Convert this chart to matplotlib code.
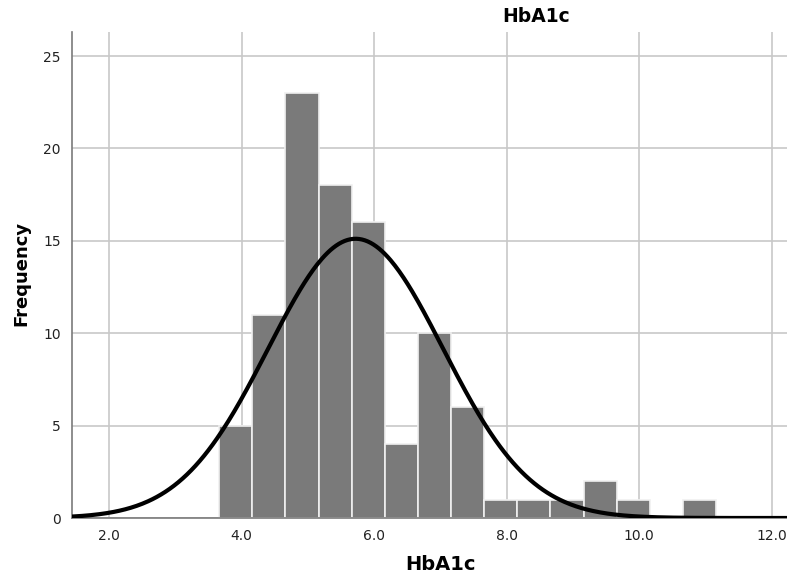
import numpy as np
import matplotlib
matplotlib.use("Agg")
import matplotlib.pyplot as plt

# Data
bin_edges = [3.66, 4.16, 4.66, 5.16, 5.66, 6.16, 6.66, 7.16, 7.66, 8.16,
             8.66, 9.16, 9.66, 10.16, 10.66, 11.16]
counts = [5, 11, 23, 18, 16, 4, 10, 6, 1, 1, 1, 2, 1, 0, 1]
curve_mean = 5.72
curve_sd = 1.32
n_total = 100
x_ticks = [2.0, 4.0, 6.0, 8.0, 10.0, 12.0]
y_ticks = [0, 5, 10, 15, 20, 25]

fig = plt.figure(figsize=(7.87, 5.78), dpi=100)
ax = fig.add_axes([0.0915, 0.1038, 0.9085, 0.8408])

edges = np.array(bin_edges)
widths = np.diff(edges)
ax.bar(edges[:-1], counts, width=widths, align="edge", color="#7a7a7a",
       edgecolor="#f0f0f0", linewidth=1.2, zorder=2)

binw = widths[0]
xs = np.linspace(1.44, 12.25, 500)
ys = n_total * binw / (curve_sd * np.sqrt(2 * np.pi)) * np.exp(-0.5 * ((xs - curve_mean) / curve_sd) ** 2)
ax.plot(xs, ys, color="black", linewidth=3, zorder=3, solid_capstyle="round")

ax.set_xlim(1.44, 12.23)
ax.set_ylim(0, 26.3)
ax.set_xticks(x_ticks)
ax.set_xticklabels([f"{t:.1f}" for t in x_ticks])
ax.set_yticks(y_ticks)
ax.grid(True, color="#c8c8c8", linewidth=1.2, zorder=0)
ax.set_axisbelow(True)
ax.tick_params(length=0, labelsize=10, colors="#222222", pad=8)
for s in ["top", "right"]:
    ax.spines[s].set_visible(False)
for s in ["left", "bottom"]:
    ax.spines[s].set_color("#7a7a7a")
    ax.spines[s].set_linewidth(1.2)

fig.text(441 / 787, 1 - 565 / 578, "HbA1c", ha="center", va="center",
         fontsize=14, fontweight="bold")
fig.text(21 / 787, 1 - 273 / 578, "Frequency", ha="center", va="center",
         rotation=90, fontsize=13, fontweight="bold")
fig.text(536 / 787, 1 - 17 / 578, "HbA1c", ha="center", va="center",
         fontsize=13.5, fontweight="bold")

fig.savefig("out.png", dpi=100)
